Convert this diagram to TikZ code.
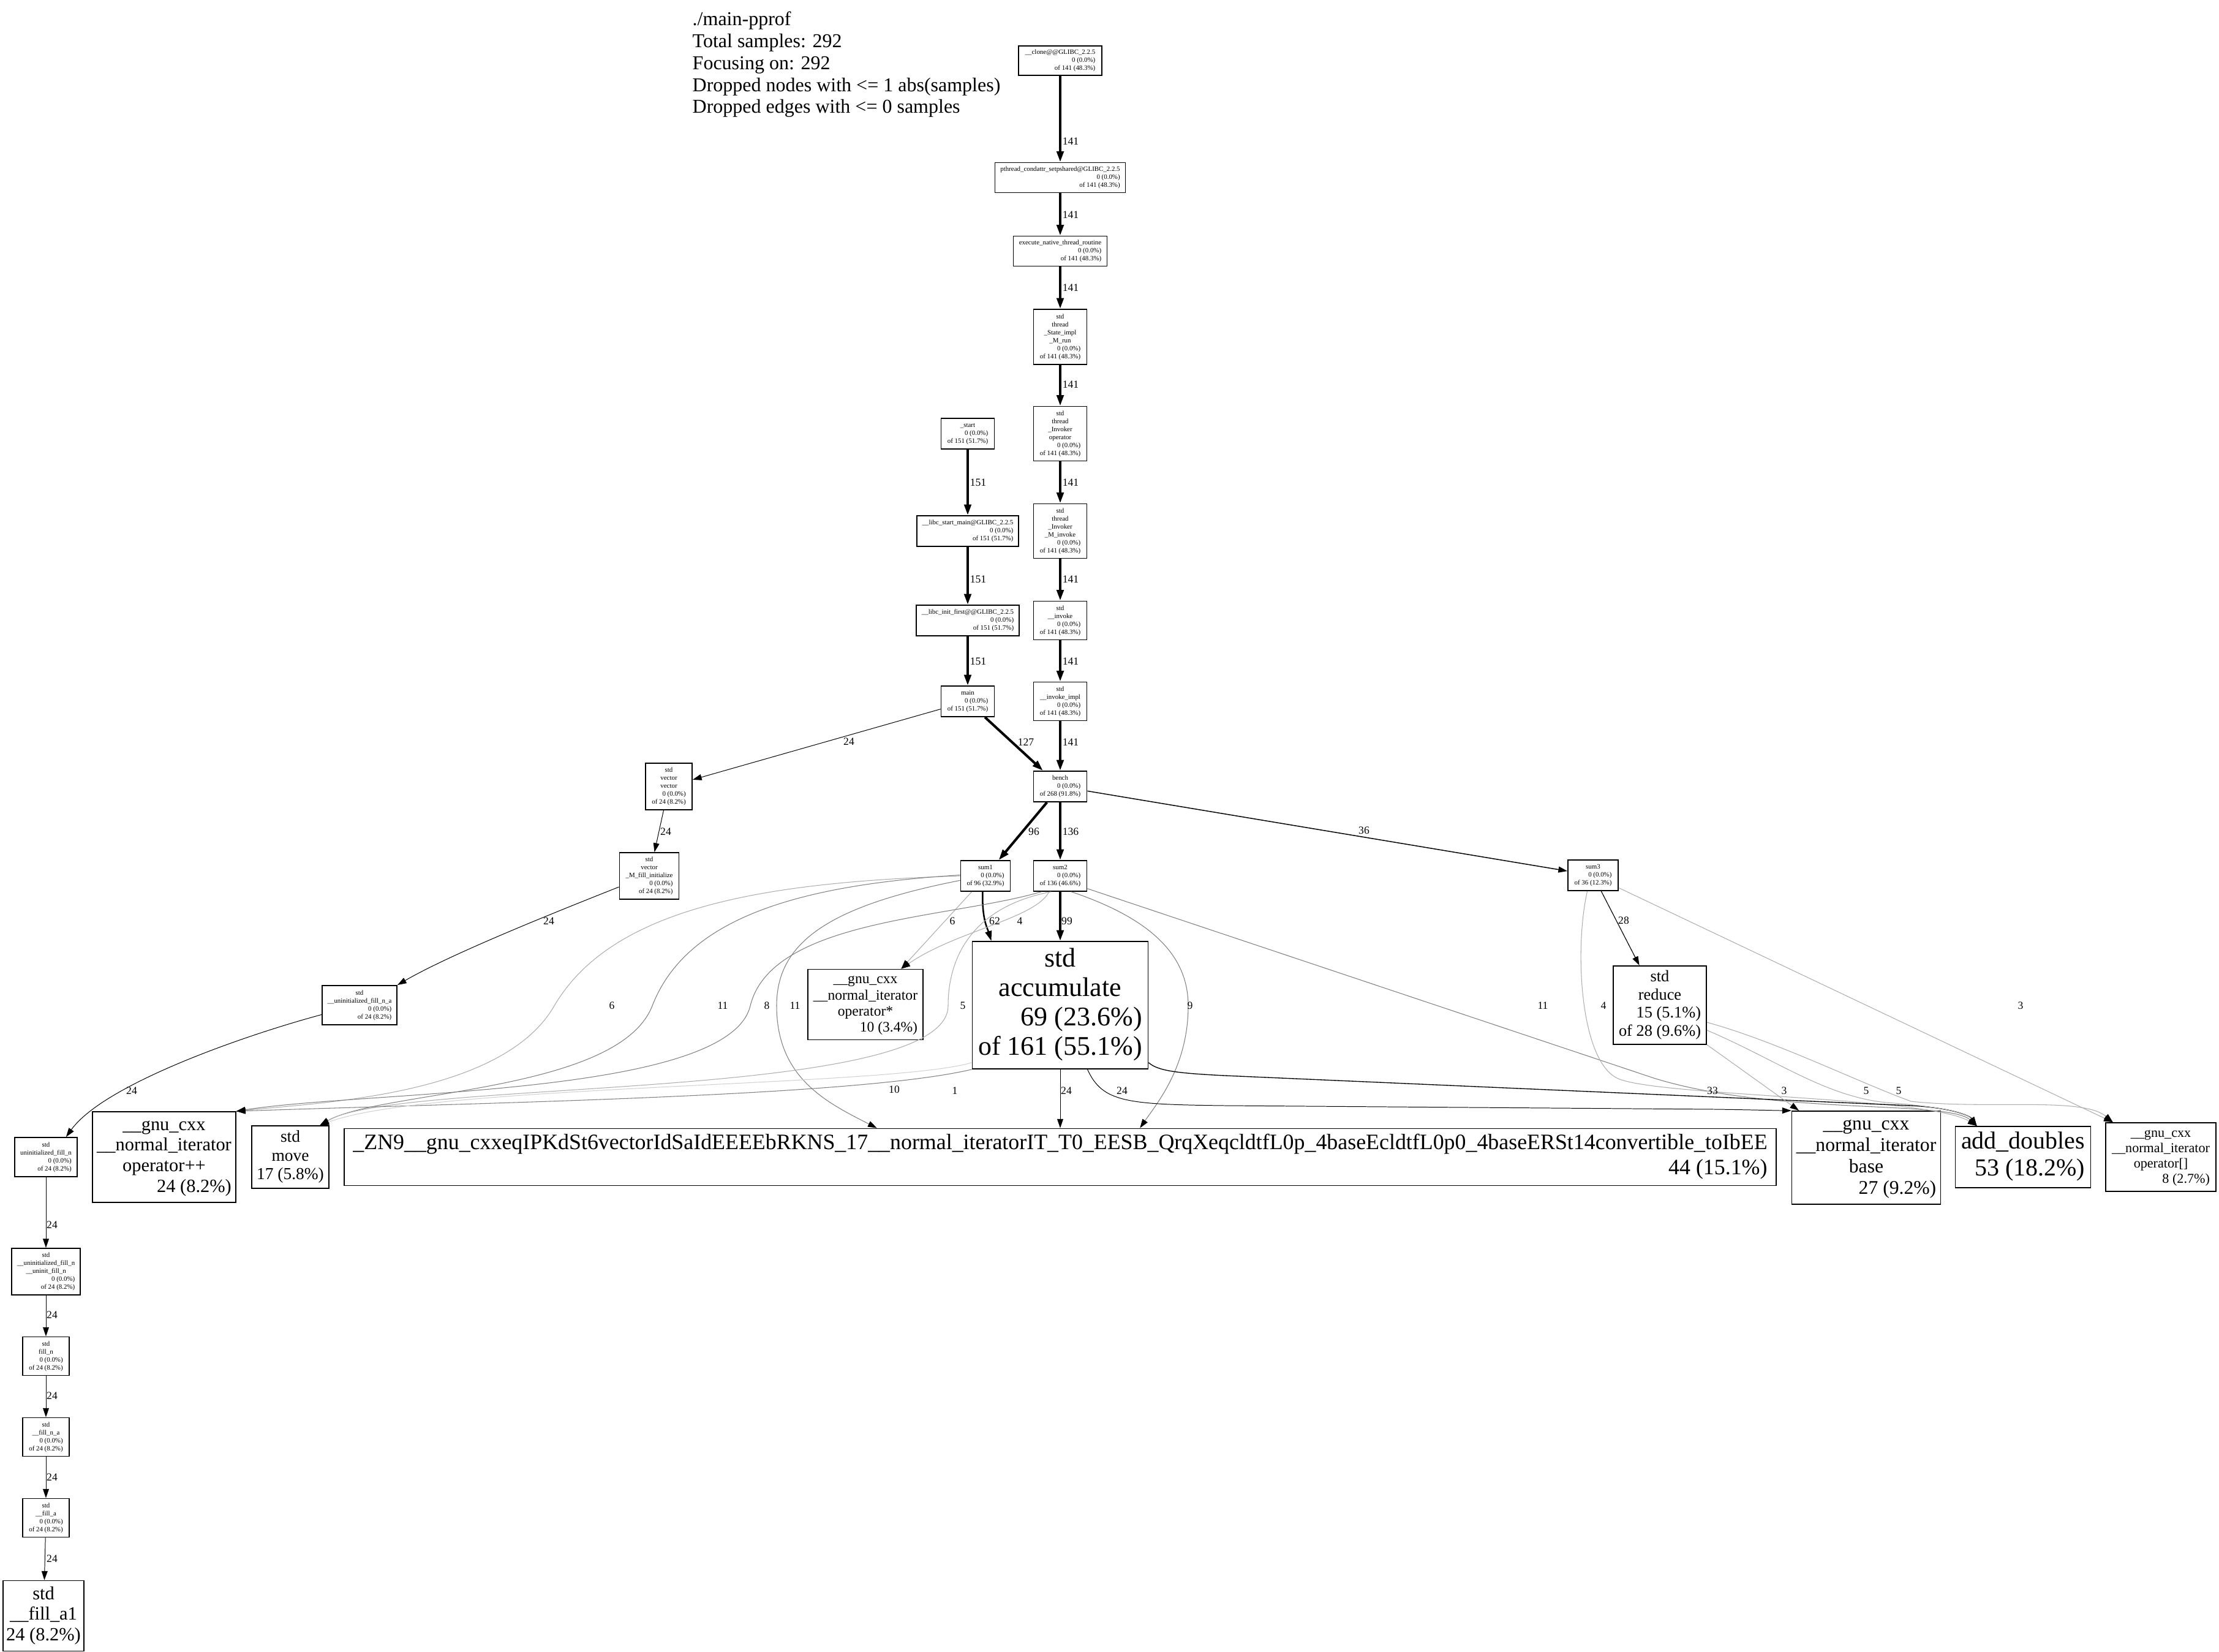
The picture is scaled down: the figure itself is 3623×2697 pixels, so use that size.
\documentclass[tikz,border=0pt]{standalone}
\usepackage{fontspec}
\setmainfont{Liberation Serif}
\usetikzlibrary{arrows.meta}
\newcommand{\lbl}[3]{{\fontsize{#1}{#2}\selectfont\begin{tabular}{@{}c@{}}#3\end{tabular}}}
\newcommand{\rr}[1]{\multicolumn{1}{@{}r@{}}{#1}}
\begin{document}
\begin{tikzpicture}[x=0.01cm,y=-0.01cm,
  box/.style={draw=black, line width=0.5pt, fill=white, inner sep=0pt, rectangle},
  sz/.style 2 args={minimum width=#1*0.01cm, minimum height=#2*0.01cm},
  tipT/.style={-{Triangle[length=5pt,width=3.2pt]}},
  tipN/.style={-{Triangle[length=4.2pt,width=2.8pt,color=black]}},
  eT/.style={line width=1.15pt, tipT},
  e62/.style={line width=0.72pt, -{Triangle[length=4.6pt,width=3pt]}},
  e36/.style={line width=0.42pt, tipN},
  e33/.style={line width=0.38pt, tipN},
  e28/.style={line width=0.33pt, tipN},
  e24/.style={line width=0.28pt, tipN},
  eL/.style={line width=0.3pt, draw=black!50, tipN},
  eLL/.style={line width=0.3pt, draw=black!32, tipN},
  eLLL/.style={line width=0.3pt, draw=black!18, tipN},
  elab/.style={font=\fontsize{5}{6}\selectfont, inner sep=0pt}
]
\useasboundingbox (0,0) rectangle (3623,2697);

% header
\node[anchor=base west, inner sep=0pt] (hdr) at (1130,42)
 {\fontsize{9.1}{10.15}\selectfont\begin{tabular}[t]{@{}l@{}}./main-pprof\\ Total samples: 292\\ Focusing on: 292\\ Dropped nodes with <= 1 abs(samples)\\ Dropped edges with <= 0 samples\end{tabular}};

% small nodes
\newcommand{\sm}[1]{\lbl{3.1}{3.7}{#1}}
\node[box, sz={136}{48}] (clone) at (1731,99) {\sm{\_\_clone@@GLIBC\_2.2.5\\ \rr{0 (0.0\%)}\\ \rr{of 141 (48.3\%)}}};
\node[box, sz={213}{49}] (pthread) at (1731,290) {\sm{pthread\_condattr\_setpshared@GLIBC\_2.2.5\\ \rr{0 (0.0\%)}\\ \rr{of 141 (48.3\%)}}};
\node[box, sz={153}{49}] (execute) at (1731,410) {\sm{execute\_native\_thread\_routine\\ \rr{0 (0.0\%)}\\ \rr{of 141 (48.3\%)}}};
\node[box, sz={87}{90}] (stateimpl) at (1731,550) {\sm{std\\ thread\\ \_State\_impl\\ \_M\_run\\ \rr{0 (0.0\%)}\\ \rr{of 141 (48.3\%)}}};
\node[box, sz={87}{89}] (invop) at (1731,708) {\sm{std\\ thread\\ \_Invoker\\ operator\\ \rr{0 (0.0\%)}\\ \rr{of 141 (48.3\%)}}};
\node[box, sz={87}{89}] (minvoke) at (1731,867) {\sm{std\\ thread\\ \_Invoker\\ \_M\_invoke\\ \rr{0 (0.0\%)}\\ \rr{of 141 (48.3\%)}}};
\node[box, sz={87}{63}] (invoke) at (1731,1013) {\sm{std\\ \_\_invoke\\ \rr{0 (0.0\%)}\\ \rr{of 141 (48.3\%)}}};
\node[box, sz={87}{63}] (invimpl) at (1731,1145) {\sm{std\\ \_\_invoke\_impl\\ \rr{0 (0.0\%)}\\ \rr{of 141 (48.3\%)}}};
\node[box, sz={87}{50}] (bench) at (1731,1284) {\sm{bench\\ \rr{0 (0.0\%)}\\ \rr{of 268 (91.8\%)}}};
\node[box, sz={87}{50}] (start) at (1580,708) {\sm{\_start\\ \rr{0 (0.0\%)}\\ \rr{of 151 (51.7\%)}}};
\node[box, sz={166}{50}] (libcmain) at (1580,867) {\sm{\_\_libc\_start\_main@GLIBC\_2.2.5\\ \rr{0 (0.0\%)}\\ \rr{of 151 (51.7\%)}}};
\node[box, sz={168}{50}] (libcinit) at (1580,1013) {\sm{\_\_libc\_init\_first@@GLIBC\_2.2.5\\ \rr{0 (0.0\%)}\\ \rr{of 151 (51.7\%)}}};
\node[box, sz={87}{50}] (main) at (1580,1145) {\sm{main\\ \rr{0 (0.0\%)}\\ \rr{of 151 (51.7\%)}}};
\node[box, sz={76}{76}] (vecvec) at (1092,1284) {\sm{std\\ vector\\ vector\\ \rr{0 (0.0\%)}\\ \rr{of 24 (8.2\%)}}};
\node[box, sz={97}{76}] (fillinit) at (1060,1430) {\sm{std\\ vector\\ \_M\_fill\_initialize\\ \rr{0 (0.0\%)}\\ \rr{of 24 (8.2\%)}}};
\node[box, sz={81}{50}] (sum1) at (1609,1430) {\sm{sum1\\ \rr{0 (0.0\%)}\\ \rr{of 96 (32.9\%)}}};
\node[box, sz={87}{50}] (sum2) at (1731,1430) {\sm{sum2\\ \rr{0 (0.0\%)}\\ \rr{of 136 (46.6\%)}}};
\node[box, sz={82}{50}] (sum3) at (2601,1429) {\sm{sum3\\ \rr{0 (0.0\%)}\\ \rr{of 36 (12.3\%)}}};
\node[box, sz={122}{64}] (uninitfillna) at (587,1641) {\sm{std\\ \_\_uninitialized\_fill\_n\_a\\ \rr{0 (0.0\%)}\\ \rr{of 24 (8.2\%)}}};
\node[box, sz={102}{64}] (uninitfilln) at (75,1889) {\sm{std\\ uninitialized\_fill\_n\\ \rr{0 (0.0\%)}\\ \rr{of 24 (8.2\%)}}};
\node[box, sz={112}{76}] (uninitfill) at (75,2076) {\sm{std\\ \_\_uninitialized\_fill\_n\\ \_\_uninit\_fill\_n\\ \rr{0 (0.0\%)}\\ \rr{of 24 (8.2\%)}}};
\node[box, sz={76}{63}] (filln) at (75,2214) {\sm{std\\ fill\_n\\ \rr{0 (0.0\%)}\\ \rr{of 24 (8.2\%)}}};
\node[box, sz={76}{63}] (fillna) at (75,2346) {\sm{std\\ \_\_fill\_n\_a\\ \rr{0 (0.0\%)}\\ \rr{of 24 (8.2\%)}}};
\node[box, sz={76}{63}] (filla) at (75,2478) {\sm{std\\ \_\_fill\_a\\ \rr{0 (0.0\%)}\\ \rr{of 24 (8.2\%)}}};

% big nodes
\node[box, sz={132}{115}] (filla1) at (71,2638) {\lbl{8.65}{9.6}{std\\ \_\_fill\_a1\\ \rr{24 (8.2\%)}}};
\node[box, sz={188}{115}] (opstar) at (1413,1640) {\lbl{6.7}{7.5}{\_\_gnu\_cxx\\ \_\_normal\_iterator\\ operator*\\ \rr{10 (3.4\%)}}};
\node[box, sz={287}{208}] (accum) at (1731,1641) {\lbl{12.5}{13.7}{std\\ accumulate\\ \rr{69 (23.6\%)}\\ \rr{of 161 (55.1\%)}}};
\node[box, sz={152}{128}] (reduce) at (2710,1641) {\lbl{7.5}{8.4}{std\\ reduce\\ \rr{15 (5.1\%)}\\ \rr{of 28 (9.6\%)}}};
\node[box, sz={234}{148}] (oppp) at (268,1889) {\lbl{8.65}{9.6}{\_\_gnu\_cxx\\ \_\_normal\_iterator\\ operator++\\ \rr{24 (8.2\%)}}};
\node[box, sz={126}{102}] (move) at (474,1889) {\lbl{7.8}{8.7}{std\\ move\\ \rr{17 (5.8\%)}}};
\node[box, sz={2338}{93}] (zn9) at (1731,1889) {\lbl{10.2}{11.5}{\_ZN9\_\_gnu\_cxxeqIPKdSt6vectorIdSaIdEEEEbRKNS\_17\_\_normal\_iteratorIT\_T0\_EESB\_QrqXeqcldtfL0p\_4baseEcldtfL0p0\_4baseERSt14convertible\_toIbEE\\ \rr{44 (15.1\%)}}};
\node[box, sz={243}{152}] (base) at (3047,1890) {\lbl{9.0}{10}{\_\_gnu\_cxx\\ \_\_normal\_iterator\\ base\\ \rr{27 (9.2\%)}}};
\node[box, sz={221}{100}] (adddoubles) at (3303,1889) {\lbl{11.35}{12.5}{add\_doubles\\ \rr{53 (18.2\%)}}};
\node[box, sz={180}{112}] (opidx) at (3528,1889) {\lbl{6.3}{7.1}{\_\_gnu\_cxx\\ \_\_normal\_iterator\\ operator[]\\ \rr{8 (2.7\%)}}};

% edges
\draw[eT] (clone) -- (pthread);
\draw[eT] (pthread) -- (execute);
\draw[eT] (execute) -- (stateimpl);
\draw[eT] (stateimpl) -- (invop);
\draw[eT] (invop) -- (minvoke);
\draw[eT] (minvoke) -- (invoke);
\draw[eT] (invoke) -- (invimpl);
\draw[eT] (invimpl) -- (bench);
\draw[eT] (start) -- (libcmain);
\draw[eT] (libcmain) -- (libcinit);
\draw[eT] (libcinit) -- (main);
\draw[eT] (main) -- (bench);
\draw[e24] (main) -- (vecvec);
\draw[e24] (vecvec) -- (fillinit);
\draw[e24] (fillinit.-160) .. controls (930,1480) and (740,1555) .. (uninitfillna.north east);
\draw[e24] (uninitfillna.-166) .. controls (400,1690) and (170,1770) .. (uninitfilln.45);
\draw[e24] (uninitfilln) -- (uninitfill);
\draw[e24] (uninitfill) -- (filln);
\draw[e24] (filln) -- (fillna);
\draw[e24] (fillna) -- (filla);
\draw[e24] (filla) -- (filla1);
\draw[eT] (bench) -- (sum1);
\draw[eT] (bench) -- (sum2);
\draw[e36] (bench) -- (sum3);
\draw[e62] (sum1.-100) .. controls (1603,1500) and (1612,1515) .. (accum.137);
\draw[eT] (sum2) -- (accum);
\draw[e28] (sum3) -- (reduce);
\draw[eLL] (sum1.-131) -- (opstar.45);
\draw[eLL] (sum2.-125) .. controls (1690,1500) and (1560,1520) .. (opstar.45);
\draw[eLL] (sum1.west) .. controls (1250,1440) and (1000,1480) .. (905,1642) .. controls (820,1790) and (520,1800) .. (oppp.north east);
\draw[eL] (sum1.178) .. controls (1300,1445) and (1120,1500) .. (1065,1642) .. controls (1010,1784) and (620,1780) .. (move.47);
\draw[eL] (sum2.-140) .. controls (1550,1500) and (1260,1500) .. (1225,1642) .. controls (1190,1790) and (600,1780) .. (oppp.north east);
\draw[eL] (sum1.-170) .. controls (1350,1480) and (1268,1540) .. (1268,1642) .. controls (1268,1760) and (1350,1800) .. (zn9.171.3);
\draw[eLL] (sum2.-120) .. controls (1590,1480) and (1548,1560) .. (1548,1642) .. controls (1548,1800) and (650,1760) .. (move.47);
\draw[eL] (sum2.-55) .. controls (1880,1500) and (1940,1560) .. (1940,1642) .. controls (1940,1740) and (1890,1800) .. (zn9.20.4);
\draw[eL] (sum2.-25) -- (2700,1760) .. controls (2900,1822) and (3180,1795) .. (adddoubles.146);
\draw[eLL] (sum3.-110) .. controls (2570,1550) and (2580,1730) .. (2640,1760) .. controls (2700,1790) and (3150,1790) .. (adddoubles.146);
\draw[eLL] (sum3.-26) -- (opidx.144);
\draw[e24] (accum) -- (zn9);
\draw[e24] (accum.-67) .. controls (1800,1800) and (1840,1803) .. (2000,1805) -- (2800,1811) .. controls (2870,1812) and (2900,1813) .. (base.north west);
\draw[e33] (accum.-33.5) .. controls (1890,1748) and (1920,1752) .. (2000,1756) -- (3120,1805) .. controls (3180,1808) and (3215,1820) .. (adddoubles.146);
\draw[eL] (accum.south west) .. controls (1400,1790) and (800,1800) .. (oppp.north east);
\draw[eLLL] (accum.-147) .. controls (1450,1775) and (700,1770) .. (move.47);
\draw[eLL] (reduce.-40) -- (base.145);
\draw[eLL] (reduce.-28) .. controls (2900,1730) and (2980,1790) .. (3080,1800) .. controls (3160,1806) and (3210,1815) .. (adddoubles.146);
\draw[eLL] (reduce.-20) .. controls (2900,1700) and (3030,1765) .. (3120,1798) .. controls (3250,1812) and (3400,1790) .. (opidx.144);

% edge labels
\node[elab] (l01) at (1748,231) {141};
\node[elab] (l02) at (1748,351) {141};
\node[elab] (l03) at (1748,470) {141};
\node[elab] (l04) at (1748,628) {141};
\node[elab] (l05) at (1748,788) {141};
\node[elab] (l06) at (1748,946) {141};
\node[elab] (l07) at (1748,1080) {141};
\node[elab] (l08) at (1748,1212) {141};
\node[elab] (l09) at (1597,788) {151};
\node[elab] (l10) at (1597,946) {151};
\node[elab] (l11) at (1597,1080) {151};
\node[elab] (l12) at (1675,1212) {127};
\node[elab] (l13) at (1386,1211) {24};
\node[elab] (l14) at (1087,1358) {24};
\node[elab] (l15) at (1688,1358) {96};
\node[elab] (l16) at (1748,1358) {136};
\node[elab] (l17) at (2227,1356) {36};
\node[elab] (l18) at (896,1504) {24};
\node[elab] (l19) at (1624,1504) {62};
\node[elab] (l20) at (1742,1504) {99};
\node[elab] (l21) at (1555,1504) {6};
\node[elab] (l22) at (1665,1504) {4};
\node[elab] (l23) at (2651,1503) {28};
\node[elab] (l24) at (215,1781) {24};
\node[elab] (l25) at (85,2000) {24};
\node[elab] (l26) at (85,2147) {24};
\node[elab] (l27) at (85,2279) {24};
\node[elab] (l28) at (85,2412) {24};
\node[elab] (l29) at (85,2545) {24};
\node[elab] (l30) at (999,1642) {6};
\node[elab] (l31) at (1180,1642) {11};
\node[elab] (l32) at (1252,1642) {8};
\node[elab] (l33) at (1298,1642) {11};
\node[elab] (l34) at (1572,1642) {5};
\node[elab] (l35) at (1943,1642) {9};
\node[elab] (l36) at (2519,1642) {11};
\node[elab] (l37) at (2618,1642) {4};
\node[elab] (l38) at (3299,1642) {3};
\node[elab] (l39) at (1460,1779) {10};
\node[elab] (l40) at (1559,1781) {1};
\node[elab] (l41) at (1741,1781) {24};
\node[elab] (l42) at (1832,1781) {24};
\node[elab] (l43) at (2796,1781) {33};
\node[elab] (l44) at (2913,1781) {3};
\node[elab] (l45) at (3047,1781) {5};
\node[elab] (l46) at (3100,1781) {5};
\end{tikzpicture}
\end{document}
